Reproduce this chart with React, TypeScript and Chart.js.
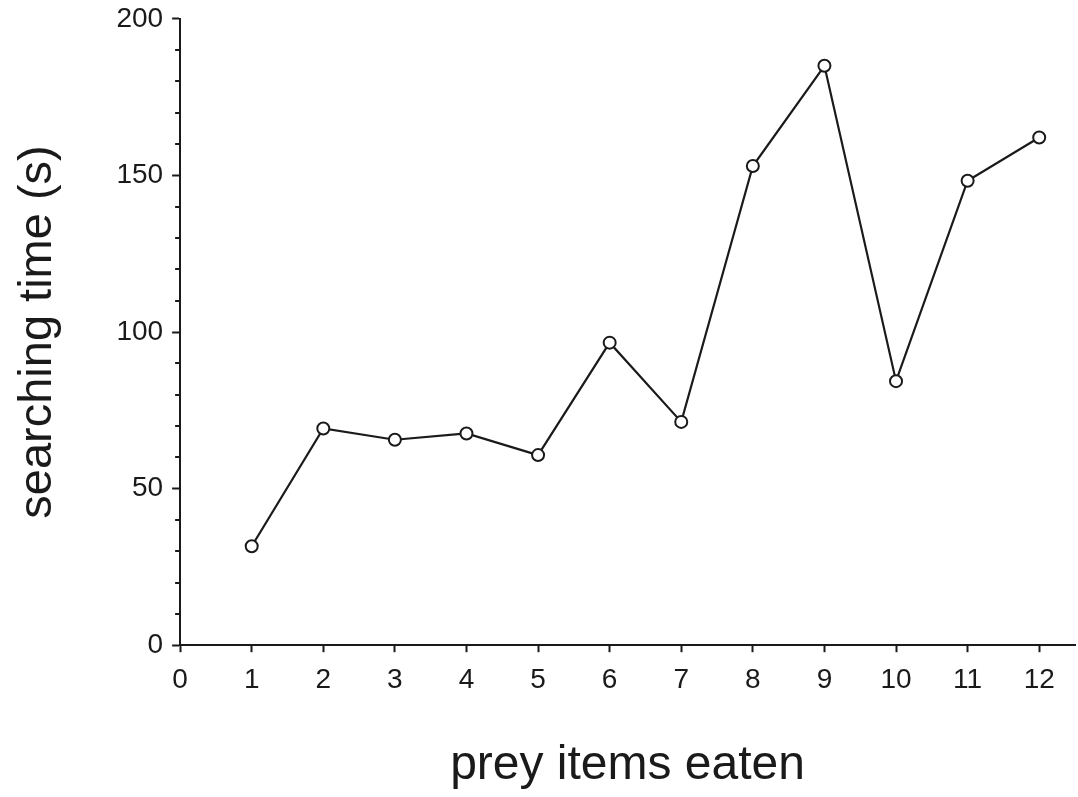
import React, { useEffect, useRef } from "react";
import { Chart, registerables } from "chart.js";

Chart.register(...registerables);

const preyItems = [1, 2, 3, 4, 5, 6, 7, 8, 9, 10, 11, 12];
const searchingTime = [31.6, 69.2, 65.6, 67.6, 60.7, 96.6, 71.3, 153.0, 185.0, 84.3, 148.3, 162.1];
const yMajorTicks = [0, 50, 100, 150, 200];
const xTickValues = [0, 1, 2, 3, 4, 5, 6, 7, 8, 9, 10, 11, 12];

const FONT = "'Liberation Sans', Arial, Helvetica, sans-serif";
const INK = "#1a1a1a";

const minorTicks = {
  id: "minorTicks",
  afterDraw(chart: any) {
    const y = chart.scales.y;
    const ctx = chart.ctx;
    ctx.save();
    ctx.strokeStyle = INK;
    ctx.lineWidth = 2;
    for (const t of y.ticks) {
      if (yMajorTicks.includes(t.value)) continue;
      const py = Math.round(y.getPixelForValue(t.value));
      ctx.beginPath();
      ctx.moveTo(y.right, py);
      ctx.lineTo(y.right - 5, py);
      ctx.stroke();
    }
    ctx.restore();
  },
};

export default function App() {
  const ref = useRef<HTMLCanvasElement>(null);
  useEffect(() => {
    const chart = new Chart(ref.current!, {
      type: "line",
      data: {
        datasets: [
          {
            data: preyItems.map((x, i) => ({ x, y: searchingTime[i] })),
            borderColor: INK,
            borderWidth: 2.2,
            pointRadius: 6,
            pointBorderWidth: 2,
            pointBackgroundColor: "#ffffff",
            pointBorderColor: INK,
            tension: 0,
            clip: false,
          },
        ],
      },
      plugins: [minorTicks],
      options: {
        animation: false,
        responsive: false,
        layout: { autoPadding: false, padding: { top: 10, right: 3, left: 0, bottom: 0 } },
        plugins: { legend: { display: false }, tooltip: { enabled: false } },
        scales: {
          x: {
            type: "linear",
            min: 0,
            max: 12.5,
            afterBuildTicks: (scale: any) => {
              scale.ticks = xTickValues.map((v) => ({ value: v }));
            },
            afterFit: (scale: any) => {
              scale.paddingRight = 0;
              scale.paddingLeft = 0;
            },
            ticks: {
              stepSize: 1,
              autoSkip: false,
              maxRotation: 0,
              padding: 11,
              color: INK,
              font: { family: FONT, size: 28 },
            },
            grid: {
              drawOnChartArea: false,
              tickLength: 7,
              tickWidth: 2,
              tickColor: INK,
            },
            border: { color: INK, width: 2 },
            title: {
              display: true,
              text: "prey items eaten",
              color: INK,
              font: { family: FONT, size: 48 },
              padding: { top: 29.6, bottom: 2 },
            },
          },
          y: {
            type: "linear",
            min: 0,
            max: 200,
            ticks: {
              stepSize: 10,
              autoSkip: false,
              padding: 9,
              color: INK,
              font: { family: FONT, size: 28, lineHeight: 0.7 },
              callback: (v: any) => (yMajorTicks.includes(Number(v)) ? String(v) : ""),
            },
            grid: {
              drawOnChartArea: false,
              tickLength: 8,
              tickWidth: 2,
              tickColor: (ctx: any) =>
                ctx.tick && yMajorTicks.includes(ctx.tick.value) ? INK : "rgba(0,0,0,0)",
            },
            border: { color: INK, width: 2 },
            title: {
              display: true,
              text: "searching time (s)",
              color: INK,
              font: { family: FONT, size: 47 },
              padding: { top: 10, bottom: 41 },
            },
          },
        },
      },
    } as any);
    return () => chart.destroy();
  }, []);
  return (
    <div style={{ position: "fixed", left: 0, top: 0, width: 1078, height: 797, background: "#fff" }}>
      <canvas ref={ref} width={1078} height={797} style={{ width: 1078, height: 797 }} />
    </div>
  );
}
